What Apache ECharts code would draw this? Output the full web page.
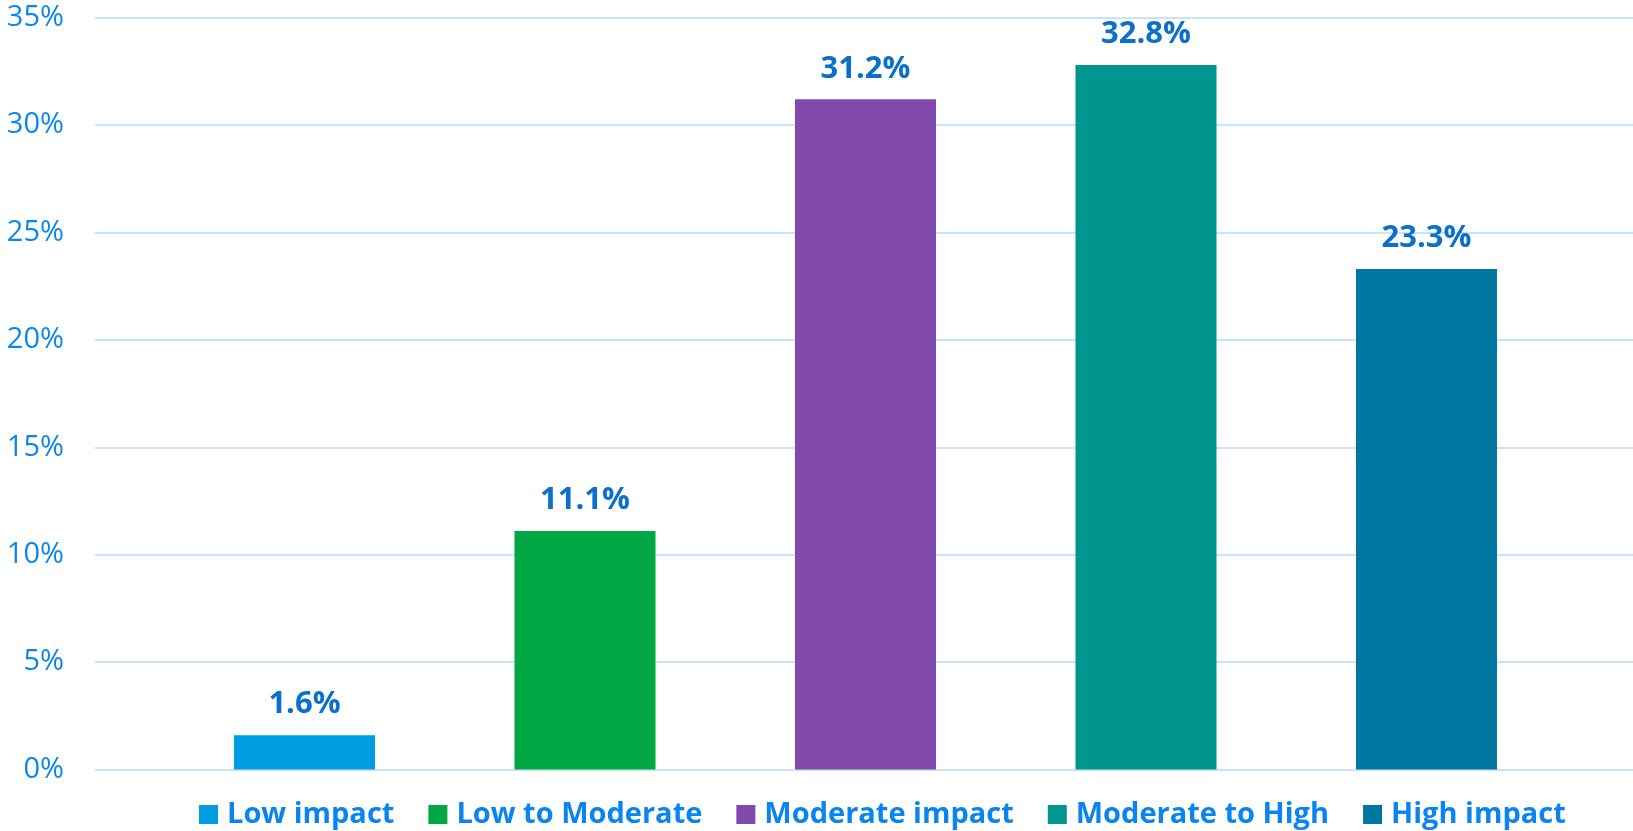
<!DOCTYPE html>
<html>
<head>
<meta charset="utf-8">
<script src="https://cdn.jsdelivr.net/npm/echarts@6/dist/echarts.min.js"></script>
<style>
html,body{margin:0;padding:0;background:#fff;}
#chart{width:1633px;height:831px;}
</style>
</head>
<body>
<div id="chart"></div>
<script>
const categories = ["Low impact", "Low to Moderate", "Moderate impact", "Moderate to High", "High impact"];
const values = [1.6, 11.1, 31.2, 32.8, 23.3];
const colors = ["#009ee0", "#00a843", "#8049ab", "#00968f", "#0077a0"];
const yTicks = [0, 5, 10, 15, 20, 25, 30, 35];

const chart = echarts.init(document.getElementById('chart'), null, {renderer: 'canvas'});

const series = categories.map((name, i) => ({
  name: name,
  type: 'bar',
  xAxisIndex: 1,
  yAxisIndex: 1,
  stack: 'all',
  barWidth: 141,
  itemStyle: {color: colors[i]},
  label: {
    show: true,
    position: 'top',
    distance: 15,
    formatter: p => p.value.toFixed(1) + '%',
    fontFamily: 'Open Sans',
    fontWeight: 'bold',
    fontSize: 31,
    lineHeight: 31,
    color: '#0b6fcc'
  },
  data: categories.map((c, j) => (j === i ? values[i] : '-'))
}));

chart.setOption({
  animation: false,
  backgroundColor: '#ffffff',
  legend: {
    data: categories,
    left: 194,
    top: 794,
    itemWidth: 19,
    itemHeight: 19,
    itemGap: 34,
    icon: 'rect',
    textStyle: {
      fontFamily: 'Open Sans',
      fontWeight: 'bold',
      fontSize: 29,
      lineHeight: 31,
      color: '#0a84f0',
      padding: [0, 0, 0, 4]
    }
  },
  grid: [
    {left: 95, right: 0, top: 17.7, bottom: 61.5},
    {left: 164.25, right: 66.25, top: 17.7, bottom: 61.5}
  ],
  xAxis: [
    {gridIndex: 0, type: 'category', data: categories, show: false},
    {gridIndex: 1, type: 'category', data: categories, show: false}
  ],
  yAxis: [
    {
      gridIndex: 0, type: 'value', min: yTicks[0], max: yTicks[yTicks.length - 1], interval: 5,
      axisLine: {show: false}, axisTick: {show: false},
      splitLine: {show: true, lineStyle: {color: '#c8e4fa', width: 2}},
      axisLabel: {
        margin: 31,
        formatter: v => v + '%',
        fontFamily: 'Open Sans',
        fontSize: 29,
        color: '#0a87ef'
      }
    },
    {
      gridIndex: 1, type: 'value', min: yTicks[0], max: yTicks[yTicks.length - 1], interval: 5,
      show: false, splitLine: {show: false}
    }
  ],
  series: series
});
</script>
</body>
</html>
